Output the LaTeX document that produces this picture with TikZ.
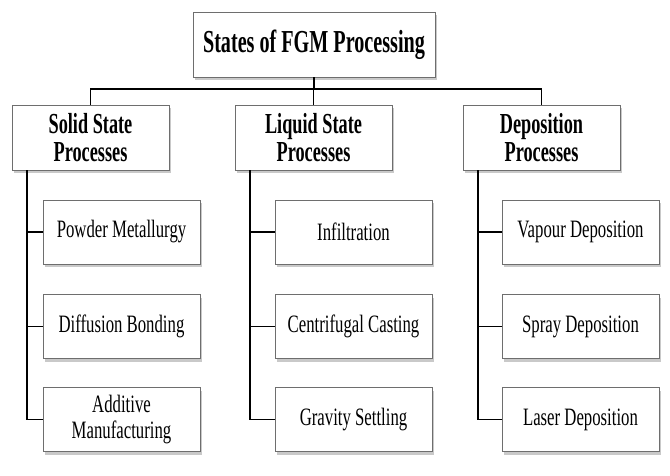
\documentclass[tikz,border=0pt]{standalone}
\usepackage{fontspec}
\setmainfont{Liberation Serif}[FakeStretch=0.67]
\newfontfamily\hdfont{Liberation Serif}[FakeStretch=0.63]
\usetikzlibrary{shadows}
\definecolor{boxline}{HTML}{6E6E6E}
\tikzset{
  box/.style={draw=boxline, line width=0.9pt, fill=white, rectangle, align=center,
    inner sep=0pt, drop shadow={shadow xshift=2pt, shadow yshift=-3pt, fill=black!35, opacity=0.6}},
  titlebox/.style={box, minimum width=242pt, minimum height=65pt,
    font=\hdfont\bfseries\fontsize{32}{34}\selectfont},
  headbox/.style={box, minimum width=157pt, minimum height=65pt,
    font=\hdfont\bfseries\fontsize{29}{27.5}\selectfont},
  leafbox/.style={box, minimum width=157pt, minimum height=64pt,
    font=\fontsize{25}{25.5}\selectfont},
  conn/.style={draw=black, line width=1.8pt}
}
\begin{document}
\begin{tikzpicture}[x=1pt,y=-1pt]
\useasboundingbox (0,0) rectangle (670,476);
\fill[white] (0,0) rectangle (670,476);
\node[titlebox] (top) at (314,44.5) {States of FGM Processing};
\node[headbox] (solid) at (90.5,137.5) {Solid State\\Processes};
\node[headbox] (liquid) at (313.5,137.5) {Liquid State\\Processes};
\node[headbox] (dep) at (541.5,137.5) {Deposition\\Processes};
\node[leafbox] (pm) at (121.5,232) {Powder Metallurgy};
\node[leafbox] (db) at (121.5,326.5) {Diffusion Bonding};
\node[leafbox] (am) at (121.5,419.5) {Additive\\Manufacturing};
\node[leafbox] (inf) at (353.5,232) {Infiltration};
\node[leafbox] (cc) at (353.5,326.5) {Centrifugal Casting};
\node[leafbox] (gs) at (353.5,419.5) {Gravity Settling};
\node[leafbox] (vd) at (580.5,232) {Vapour Deposition};
\node[leafbox] (sd) at (580.5,326.5) {Spray Deposition};
\node[leafbox] (ld) at (580.5,419.5) {Laser Deposition};
\coordinate (bus) at (0,89);
\draw[conn] (top.south) -- (top.south |- bus);
\draw[conn] (solid.north) -- (solid.north |- bus) -| (dep.north);
\draw[conn] (liquid.north) -- (liquid.north |- bus);
\coordinate (sv) at ([xshift=15.5pt]solid.south west);
\coordinate (lv) at ([xshift=15.5pt]liquid.south west);
\coordinate (dv) at ([xshift=15.5pt]dep.south west);
\draw[conn] (sv) |- (am.west);
\draw[conn] (sv |- pm.west) -- (pm.west);
\draw[conn] (sv |- db.west) -- (db.west);
\draw[conn] (lv) |- (gs.west);
\draw[conn] (lv |- inf.west) -- (inf.west);
\draw[conn] (lv |- cc.west) -- (cc.west);
\draw[conn] (dv) |- (ld.west);
\draw[conn] (dv |- vd.west) -- (vd.west);
\draw[conn] (dv |- sd.west) -- (sd.west);
\end{tikzpicture}
\end{document}
